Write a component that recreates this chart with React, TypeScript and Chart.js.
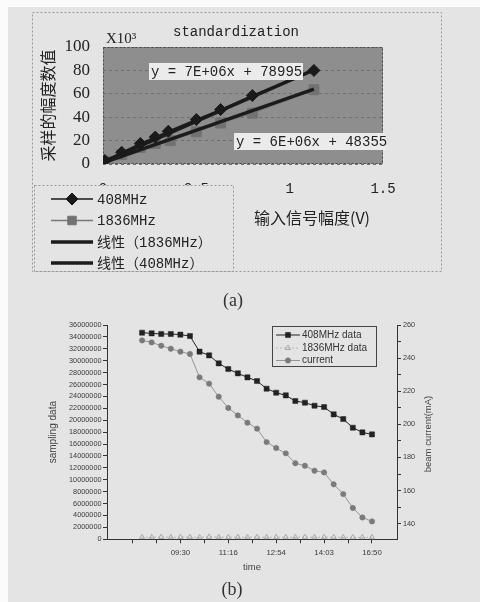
import React, { useEffect, useRef } from "react";
import { Chart, registerables } from "chart.js";

Chart.register(...registerables);

const PAGE_BG = "#e4e4e4";

// ---------- Figure (a) ----------
const aTitle = "standardization";
const aScaleNote = "X10³";
const aYTitle = "采样的幅度数值";
const aXTitle = "输入信号幅度(V)";
const aCaption = "(a)";
const aYTicks = [0, 20, 40, 60, 80, 100];
const aXTicks = [0, 0.5, 1, 1.5];
const a408X = [0.01, 0.1, 0.2, 0.28, 0.35, 0.5, 0.63, 0.8, 1.13];
const a408Y = [3, 10, 17.5, 23, 28, 38, 46.5, 58.5, 80];
const a1836X = [0.01, 0.1, 0.2, 0.28, 0.36, 0.5, 0.63, 0.8, 1.13];
const a1836Y = [2, 8, 14, 17.5, 20, 27.5, 35, 43.5, 63.5];
const aTrend408X = [0, 1.13];
const aTrend408Y = [1.5, 80.5];
const aTrend1836X = [0, 1.13];
const aTrend1836Y = [1, 64];
const aSeriesNames = ["408MHz", "1836MHz", "线性（1836MHz）", "线性（408MHz）"];
const aEq408 = "y = 7E+06x + 78995";
const aEq1836 = "y = 6E+06x + 48355";

// ---------- Figure (b) ----------
const bCaption = "(b)";
const bXTitle = "time";
const bYTitle = "sampling data";
const bY1Title = "beam current(mA)";
const bSeriesNames = ["408MHz data", "1836MHz data", "current"];
const b408 = [
  34710000, 34600000, 34490000, 34490000, 34380000, 34150000, 31520000, 30900000,
  29560000, 28600000, 27880000, 27200000, 26590000, 25300000, 24630000, 24180000,
  23230000, 22950000, 22440000, 22220000, 20990000, 20200000, 18750000, 17960000, 17620000,
];
const b1836 = [
  350000, 340000, 380000, 330000, 360000, 350000, 340000, 400000, 350000, 330000,
  340000, 360000, 350000, 340000, 330000, 350000, 340000, 360000, 330000, 340000,
  350000, 330000, 320000, 330000, 320000,
];
const bCurrent = [
  250.7, 249.5, 247.5, 245.7, 243.9, 242.5, 228.4, 224.6, 216.7, 209.9, 205.4, 201.0,
  197.4, 189.3, 185.7, 182.5, 176.5, 175.0, 172.0, 171.0, 163.8, 157.9, 149.5, 143.8, 141.4,
];
const bTimeTickPos = [-1, 4, 9, 14, 19, 24];
const bTimeTickLabels = ["", "09:30", "11:16", "12:54", "14:03", "16:50"];
const bTimeMinorPos = [1.5, 6.5, 11.5, 16.5, 21.5];
const bLeftTicks = [
  0, 2000000, 4000000, 6000000, 8000000, 10000000, 12000000, 14000000, 16000000, 18000000,
  20000000, 22000000, 24000000, 26000000, 28000000, 30000000, 32000000, 34000000, 36000000,
];
const bRightTicks = [140, 160, 180, 200, 220, 240, 260];
const bRightMinor = [150, 170, 190, 210, 230, 250];

function drawMarker(
  ctx: CanvasRenderingContext2D,
  style: string,
  x: number,
  y: number,
  r: number,
  fill: string,
  stroke: string,
  lw: number
) {
  if (!r) return;
  ctx.save();
  ctx.beginPath();
  if (style === "rect") {
    const s = r * Math.SQRT1_2;
    ctx.rect(x - s, y - s, 2 * s, 2 * s);
  } else if (style === "rectRot") {
    ctx.moveTo(x, y - r);
    ctx.lineTo(x + r, y);
    ctx.lineTo(x, y + r);
    ctx.lineTo(x - r, y);
    ctx.closePath();
  } else if (style === "triangle") {
    for (let k = 0; k < 3; k++) {
      const ang = (k * 2 * Math.PI) / 3;
      const px = x + Math.sin(ang) * r;
      const py = y - Math.cos(ang) * r;
      if (k === 0) ctx.moveTo(px, py);
      else ctx.lineTo(px, py);
    }
    ctx.closePath();
  } else {
    ctx.arc(x, y, r, 0, Math.PI * 2);
  }
  ctx.fillStyle = fill;
  ctx.fill();
  ctx.lineWidth = lw;
  ctx.strokeStyle = stroke;
  ctx.stroke();
  ctx.restore();
}

function legendRow(ctx: CanvasRenderingContext2D, ds: any, x1: number, x2: number, y: number, maxR: number) {
  ctx.save();
  ctx.beginPath();
  ctx.setLineDash(ds.borderDash || []);
  ctx.strokeStyle = ds.borderColor;
  ctx.lineWidth = ds.borderWidth;
  ctx.moveTo(x1, y);
  ctx.lineTo(x2, y);
  ctx.stroke();
  ctx.setLineDash([]);
  ctx.restore();
  drawMarker(
    ctx,
    ds.pointStyle,
    (x1 + x2) / 2,
    y,
    Math.min(ds.pointRadius || 0, maxR),
    ds.pointBackgroundColor,
    ds.pointBorderColor,
    ds.pointBorderWidth || 1
  );
}

const figAPlugin = {
  id: "figA",
  beforeDraw(chart: any) {
    const { ctx, chartArea: ca } = chart;
    ctx.save();
    ctx.fillStyle = "#8e8e8e";
    ctx.fillRect(ca.left, ca.top, ca.right - ca.left, ca.bottom - ca.top);
    ctx.restore();
  },
  beforeDatasetsDraw(chart: any) {
    const { ctx, chartArea: ca } = chart;
    ctx.save();
    ctx.setLineDash([2, 2]);
    ctx.strokeStyle = "#4a4a4a";
    ctx.lineWidth = 1;
    ctx.strokeRect(ca.left + 0.5, ca.top + 0.5, ca.right - ca.left - 1, ca.bottom - ca.top - 1);
    ctx.restore();
  },
  afterDraw(chart: any) {
    const { ctx } = chart;
    ctx.save();
    ctx.setLineDash([2, 2]);
    ctx.strokeStyle = "#9a9a9a";
    ctx.lineWidth = 1;
    ctx.strokeRect(32.5, 12.5, 409, 259);
    ctx.setLineDash([]);
    ctx.font = '14px "Liberation Mono", monospace';
    ctx.textBaseline = "middle";
    ctx.textAlign = "left";
    ctx.fillStyle = "#ebebeb";
    ctx.fillRect(149, 63, 154, 17);
    ctx.fillRect(234, 133, 152, 17);
    ctx.fillStyle = "#222";
    ctx.fillText(aEq408, 151, 72);
    ctx.fillText(aEq1836, 236, 142);
    ctx.textAlign = "center";
    ctx.fillText(aTitle, 236, 32);
    ctx.textAlign = "left";
    ctx.font = '15px "Liberation Serif", serif';
    ctx.fillText(aScaleNote, 106, 39);
    ctx.textAlign = "center";
    ctx.font = '16px "Noto Sans CJK SC", sans-serif';
    ctx.fillText(aXTitle, 312, 218);
    // legend box (covers the lower x tick labels as in the original)
    ctx.fillStyle = PAGE_BG;
    ctx.fillRect(34, 185, 199, 86);
    ctx.setLineDash([2, 2]);
    ctx.strokeStyle = "#9a9a9a";
    ctx.strokeRect(34.5, 185.5, 199, 86);
    ctx.setLineDash([]);
    const rows = [199, 220.5, 242, 263];
    chart.data.datasets.forEach((ds: any, i: number) => {
      legendRow(ctx, ds, 51, 93, rows[i], 6);
      ctx.fillStyle = "#222";
      ctx.textAlign = "left";
      ctx.textBaseline = "middle";
      ctx.font = '14px "Liberation Mono", "Noto Sans CJK SC", monospace';
      ctx.fillText(ds.label, 97, rows[i] + 1);
    });
    ctx.textAlign = "center";
    ctx.fillStyle = "#333";
    ctx.font = '18px "Liberation Serif", serif';
    ctx.fillText(aCaption, 233, 301);
    ctx.restore();
  },
};

const figBPlugin = {
  id: "figB",
  afterDraw(chart: any) {
    const { ctx } = chart;
    ctx.save();
    ctx.strokeStyle = "#444";
    ctx.lineWidth = 1;
    ctx.strokeRect(272.5, 326.5, 104, 40);
    const rows = [335, 348, 360.5];
    chart.data.datasets.forEach((ds: any, i: number) => {
      legendRow(ctx, ds, 276, 300, rows[i], 4);
      ctx.fillStyle = "#333";
      ctx.font = '10px "Liberation Sans", Arial, sans-serif';
      ctx.textAlign = "left";
      ctx.textBaseline = "middle";
      ctx.fillText(ds.label, 302, rows[i]);
    });
    ctx.save();
    ctx.translate(428, 434);
    ctx.rotate(-Math.PI / 2);
    ctx.textAlign = "center";
    ctx.textBaseline = "middle";
    ctx.fillStyle = "#444";
    ctx.font = '9.5px "Liberation Sans", Arial, sans-serif';
    ctx.fillText(bY1Title, 0, 0);
    ctx.restore();
    ctx.textAlign = "center";
    ctx.textBaseline = "middle";
    ctx.fillStyle = "#333";
    ctx.font = '18px "Liberation Serif", serif';
    ctx.fillText(bCaption, 232, 590);
    ctx.restore();
  },
};

function configA(): any {
  const pts = (xs: number[], ys: number[]) => xs.map((x, i) => ({ x, y: ys[i] }));
  return {
    type: "scatter",
    data: {
      datasets: [
        {
          label: aSeriesNames[0],
          data: pts(a408X, a408Y),
          showLine: true,
          borderColor: "#1a1a1a",
          borderWidth: 1.5,
          pointStyle: "rectRot",
          pointRadius: 6,
          pointBackgroundColor: "#1a1a1a",
          pointBorderColor: "#1a1a1a",
          pointBorderWidth: 1,
          order: 0,
        },
        {
          label: aSeriesNames[1],
          data: pts(a1836X, a1836Y),
          showLine: true,
          borderColor: "#777",
          borderWidth: 1.5,
          pointStyle: "rect",
          pointRadius: 7,
          pointBackgroundColor: "#727272",
          pointBorderColor: "#727272",
          pointBorderWidth: 1,
          order: 3,
        },
        {
          label: aSeriesNames[2],
          data: pts(aTrend1836X, aTrend1836Y),
          showLine: true,
          borderColor: "#1c1c1c",
          borderWidth: 3.5,
          pointRadius: 0,
          order: 2,
        },
        {
          label: aSeriesNames[3],
          data: pts(aTrend408X, aTrend408Y),
          showLine: true,
          borderColor: "#1c1c1c",
          borderWidth: 3.5,
          pointRadius: 0,
          order: 1,
        },
      ],
    },
    options: {
      responsive: false,
      animation: false,
      events: [],
      layout: { padding: { left: 36, right: 97, top: 47, bottom: 398 } },
      plugins: { legend: { display: false }, tooltip: { enabled: false }, title: { display: false } },
      scales: {
        x: {
          type: "linear",
          min: 0,
          max: 1.5,
          afterBuildTicks: (s: any) => {
            s.ticks = aXTicks.map((v) => ({ value: v }));
          },
          afterFit: (s: any) => {
            s.height = 40;
          },
          grid: { display: false, drawTicks: false },
          border: { display: false },
          ticks: {
            autoSkip: false,
            maxRotation: 0,
            padding: 17,
            color: "#222",
            font: { family: "Liberation Mono", size: 14 },
            callback: (v: number) => String(v),
          },
        },
        y: {
          type: "linear",
          min: 0,
          max: 100,
          afterBuildTicks: (s: any) => {
            s.ticks = aYTicks.map((v) => ({ value: v }));
          },
          afterFit: (s: any) => {
            s.width = 67;
          },
          grid: { color: "#6e6e6e", lineWidth: 1, drawTicks: false },
          border: { display: false, dash: [3, 3] },
          ticks: {
            autoSkip: false,
            padding: 13,
            color: "#222",
            font: { family: "Liberation Serif", size: 17 },
          },
          title: {
            display: true,
            text: aYTitle,
            color: "#222",
            font: { family: "Noto Sans CJK SC", size: 16 },
            padding: { top: 2.4, bottom: 0 },
          },
        },
      },
    },
    plugins: [figAPlugin],
  };
}

function configB(): any {
  const idx = (ys: number[]) => ys.map((y, i) => ({ x: i, y }));
  const axisFont = { family: "Liberation Sans", size: 7.3 };
  return {
    type: "scatter",
    data: {
      datasets: [
        {
          label: bSeriesNames[0],
          data: idx(b408),
          yAxisID: "y",
          showLine: true,
          borderColor: "#222",
          borderWidth: 1,
          pointStyle: "rect",
          pointRadius: 3.6,
          pointBackgroundColor: "#222",
          pointBorderColor: "#222",
          pointBorderWidth: 0.5,
        },
        {
          label: bSeriesNames[1],
          data: idx(b1836),
          yAxisID: "y",
          showLine: true,
          borderColor: "#b4b4b4",
          borderWidth: 1,
          borderDash: [2, 2],
          pointStyle: "triangle",
          pointRadius: 3,
          pointBackgroundColor: "rgba(0,0,0,0)",
          pointBorderColor: "#a8a8a8",
          pointBorderWidth: 1,
        },
        {
          label: bSeriesNames[2],
          data: idx(bCurrent),
          yAxisID: "y1",
          showLine: true,
          borderColor: "#959595",
          borderWidth: 1,
          pointStyle: "circle",
          pointRadius: 2.7,
          pointBackgroundColor: "#7a7a7a",
          pointBorderColor: "#7a7a7a",
          pointBorderWidth: 0.5,
        },
      ],
    },
    options: {
      responsive: false,
      animation: false,
      events: [],
      layout: { padding: { left: 45, right: 30, top: 325, bottom: 22.7 } },
      plugins: { legend: { display: false }, tooltip: { enabled: false }, title: { display: false } },
      scales: {
        x: {
          type: "linear",
          min: -3.66,
          max: 26.61,
          afterBuildTicks: (s: any) => {
            s.ticks = [...bTimeTickPos, ...bTimeMinorPos].sort((a, b) => a - b).map((v) => ({ value: v }));
          },
          afterFit: (s: any) => {
            s.height = 40;
          },
          grid: { drawOnChartArea: false, drawTicks: true, tickLength: 4, color: "#333" },
          border: { display: true, color: "#333" },
          ticks: {
            autoSkip: false,
            maxRotation: 0,
            padding: 5,
            color: "#3a3a3a",
            font: { family: "Liberation Sans", size: 7.8 },
            callback: (v: number) => {
              const k = bTimeTickPos.indexOf(v);
              return k >= 0 ? bTimeTickLabels[k] : "";
            },
          },
          title: {
            display: true,
            text: bXTitle,
            color: "#444",
            font: { family: "Liberation Sans", size: 9.5 },
            padding: { top: 0, bottom: 6.6 },
          },
        },
        y: {
          type: "linear",
          position: "left",
          min: 0,
          max: 36000000,
          afterBuildTicks: (s: any) => {
            s.ticks = bLeftTicks.map((v) => ({ value: v }));
          },
          afterFit: (s: any) => {
            s.width = 62;
          },
          grid: { drawOnChartArea: false, drawTicks: true, tickLength: 4, color: "#333" },
          border: { display: true, color: "#333" },
          ticks: {
            autoSkip: false,
            padding: 1.5,
            color: "#3a3a3a",
            font: axisFont,
            callback: (v: number) => String(v),
          },
          title: {
            display: true,
            text: bYTitle,
            color: "#444",
            font: { family: "Liberation Sans", size: 10 },
            padding: { top: 2, bottom: 0 },
          },
        },
        y1: {
          type: "linear",
          position: "right",
          min: 130.6,
          max: 260,
          afterBuildTicks: (s: any) => {
            s.ticks = [...bRightTicks, ...bRightMinor].sort((a, b) => a - b).map((v) => ({ value: v }));
          },
          afterFit: (s: any) => {
            s.width = 53;
          },
          grid: { drawOnChartArea: false, drawTicks: true, tickLength: 4, color: "#333" },
          border: { display: true, color: "#333" },
          ticks: {
            autoSkip: false,
            padding: 2,
            color: "#3a3a3a",
            font: axisFont,
            callback: (v: number) => (bRightTicks.includes(v) ? String(v) : ""),
          },
        },
      },
    },
    plugins: [figBPlugin],
  };
}

export default function App() {
  const refA = useRef<HTMLCanvasElement>(null);
  const refB = useRef<HTMLCanvasElement>(null);
  useEffect(() => {
    const a = new Chart(refA.current as HTMLCanvasElement, configA());
    const b = new Chart(refB.current as HTMLCanvasElement, configB());
    return () => {
      a.destroy();
      b.destroy();
    };
  }, []);
  return (
    <div
      style={{
        position: "fixed",
        left: 0,
        top: 0,
        width: 480,
        height: 602,
        background: "#fbfbfb",
        overflow: "hidden",
      }}
    >
      <div style={{ position: "absolute", left: 8, top: 7, right: 0, bottom: 0, background: PAGE_BG }} />
      <canvas ref={refA} width={480} height={602} style={{ position: "absolute", left: 0, top: 0 }} />
      <canvas ref={refB} width={480} height={602} style={{ position: "absolute", left: 0, top: 0 }} />
    </div>
  );
}
